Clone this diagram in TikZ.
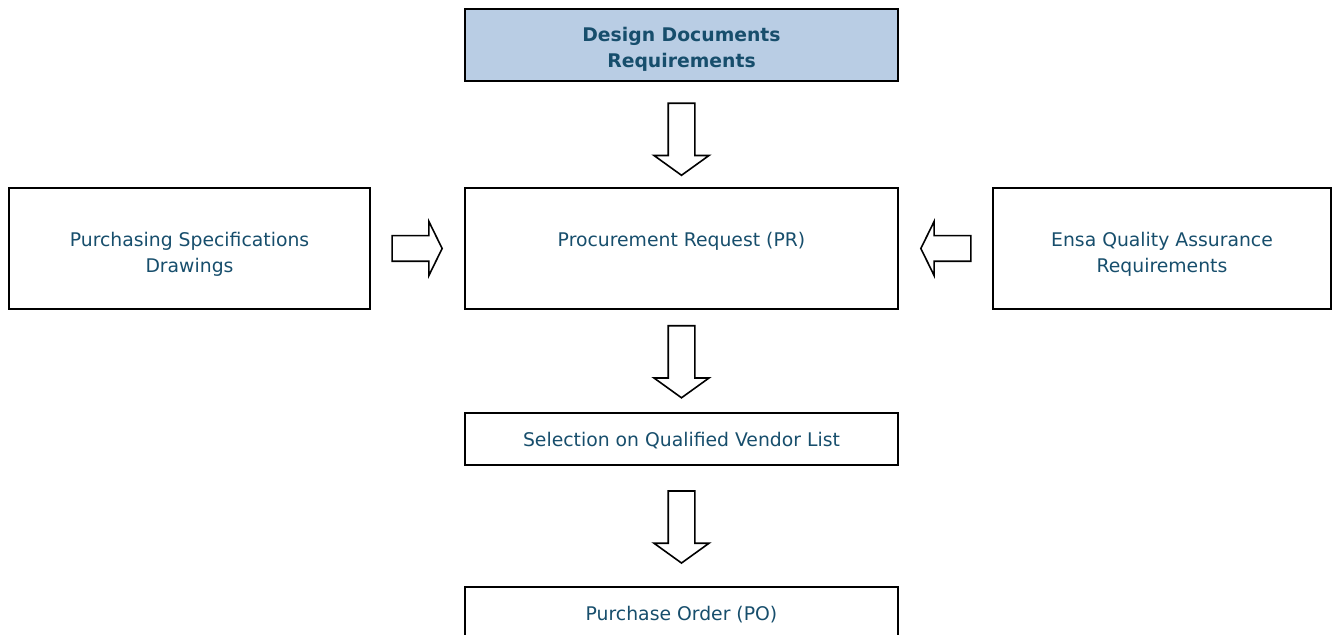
\documentclass[tikz,border=0pt]{standalone}
\usepackage{fontspec}
\setmainfont{DejaVu Sans}
\usetikzlibrary{calc, shapes.arrows}

\definecolor{boxtext}{RGB}{23,78,108}
\definecolor{boxfill}{RGB}{185,205,228}

\tikzset{
    box/.style={draw, line width=1pt, text=boxtext, align=center, inner sep=0pt,
        font=\fontsize{9.4}{13}\selectfont},
    blockarrow/.style={single arrow, draw, line width=0.8pt, fill=white,
        inner sep=6.25pt, single arrow head indent=0pt},
    downarrow/.style={blockarrow, shape border rotate=270, minimum height=36pt,
        minimum width=25pt, single arrow tip angle=108.5, yshift=2pt},
    sidearrow/.style={blockarrow, inner sep=6pt, minimum height=25pt,
        minimum width=26.5pt, single arrow tip angle=127.7, xshift=-1.75pt}
}

\begin{document}
\begin{tikzpicture}[x=0.5pt, y=-0.5pt]

    \useasboundingbox (0,0) rectangle (1335,635);

    \node[box, fill=boxfill, font=\fontsize{9.4}{13}\selectfont\bfseries,
        minimum width=216.5pt, text height=29.5pt, text depth=6.5pt] (ddr)
        at (681.5,45) {Design Documents\\Requirements};
    \node[box, minimum width=216.5pt, text height=29.5pt, text depth=31pt] (pr)
        at (681.5,248.5) {Procurement Request (PR)};
    \node[box, minimum width=180.5pt, text height=42.5pt, text depth=18pt] (psd)
        at (189.5,248.5) {Purchasing Specifications\\Drawings};
    \node[box, minimum width=169pt, text height=42.5pt, text depth=18pt] (eqa)
        at (1162,248.5) {Ensa Quality Assurance\\Requirements};
    \node[box, minimum width=216.5pt, text height=17pt, text depth=9pt] (sel)
        at (681.5,439) {Selection on Qualified Vendor List};
    \node[box, minimum width=216.5pt, text height=16.5pt, text depth=10pt] (po)
        at (681.5,614) {Purchase Order (PO)};

    % block arrows between the boxes
    \node[downarrow] (a1) at ($(ddr.south)!0.5!(pr.north)+(0,4)$) {};
    \node[downarrow] (a2) at ($(pr.south)!0.5!(sel.north)$) {};
    \node[downarrow] (a3) at ($(sel.south)!0.5!(po.north)$) {};
    \node[sidearrow] (a4) at ($(psd.east)!0.5!(pr.west)$) {};
    \node[sidearrow, shape border rotate=180, xshift=3.5pt] (a5)
        at ($(pr.east)!0.5!(eqa.west)$) {};

\end{tikzpicture}
\end{document}
